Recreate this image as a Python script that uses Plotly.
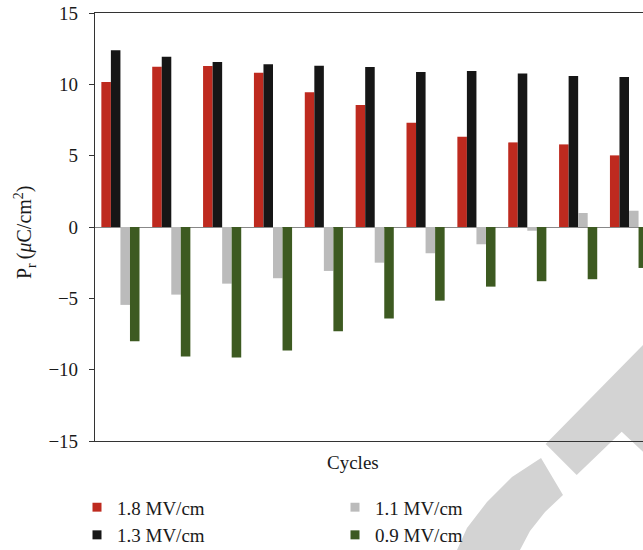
import plotly.graph_objects as go

# Remanent polarization per switching cycle for four applied fields
cycles = list(range(1, 12))
pr_18 = [10.17, 11.24, 11.29, 10.82, 9.45, 8.56, 7.30, 6.32, 5.93, 5.79, 5.02]
pr_13 = [12.39, 11.94, 11.57, 11.41, 11.31, 11.22, 10.87, 10.94, 10.76, 10.59, 10.52]
pr_11 = [-5.46, -4.74, -3.97, -3.59, -3.08, -2.50, -1.84, -1.21, -0.26, 0.98, 1.14]
pr_09 = [-8.00, -9.07, -9.14, -8.65, -7.30, -6.41, -5.16, -4.18, -3.80, -3.66, -2.87]

series = [
    ("1.8 MV/cm", pr_18, "#BE2A1F", 1),
    ("1.3 MV/cm", pr_13, "#161616", 3),
    ("1.1 MV/cm", pr_11, "#BBBBBB", 2),
    ("0.9 MV/cm", pr_09, "#3D5A21", 4),
]

y_ticks = [-15, -10, -5, 0, 5, 10, 15]

W, H = 643, 550
L, R, T, B = 95, 0, 13, 109
PW, PH = W - L - R, H - T - B

FONT = "Liberation Serif"
FS = 19
TXT = "#1a1a1a"

fig = go.Figure()

for name, vals, color, rank in series:
    fig.add_trace(go.Bar(
        x=cycles, y=vals, name=name, marker_color=color,
        marker_line_width=0, showlegend=False,
    ))
    # legend swatch (small square)
    fig.add_trace(go.Scatter(
        x=[None], y=[None], mode="markers", name=name,
        marker=dict(symbol="square", size=9, color=color),
        legendrank=rank, showlegend=True,
    ))


def px_to_paper(pts):
    return [((x - L) / PW, (T + PH - y) / PH) for x, y in pts]


def path_from(pts, closed=True):
    p = px_to_paper(pts)
    s = "M " + " L ".join(f"{x:.4f},{y:.4f}" for x, y in p)
    return s + (" Z" if closed else "")


# light grey curved-arrow mark in the background
arrow_head = [(643, 345), (545.7, 444), (576.7, 475), (621.7, 431.7), (643, 451.7)]
arc_band = [(541, 458), (512, 477), (487, 502), (467, 528), (457, 550),
            (520, 550), (530, 531), (545, 512), (563, 495)]
for pts in (arrow_head, arc_band):
    fig.add_shape(type="path", path=path_from(pts), xref="paper", yref="paper",
                  fillcolor="#D3D3D3", line_width=0, layer="below")

fig.update_layout(
    width=W, height=H,
    margin=dict(l=L, r=R, t=T, b=B, pad=0, autoexpand=False),
    paper_bgcolor="white", plot_bgcolor="white",
    barmode="group", bargap=0.25, bargroupgap=0,
    font=dict(family=FONT, size=FS, color=TXT),
    showlegend=True,
    legend=dict(
        orientation="h", x=(77 - L) / PW, xanchor="left",
        y=-0.1105, yanchor="top",
        entrywidth=213, entrywidthmode="pixels",
        traceorder="normal", bgcolor="rgba(0,0,0,0)",
        font=dict(family=FONT, size=FS, color=TXT),
        itemclick=False,
    ),
    xaxis=dict(
        range=[0.5, 11.275], showticklabels=False, ticks="",
        showgrid=False, zeroline=False,
        showline=True, linecolor="#333333", linewidth=1.2, mirror=True,
    ),
    yaxis=dict(
        range=[-15, 15], tickvals=y_ticks, ticks="outside", ticklen=5,
        tickcolor="#333333", tickwidth=1.2, ticklabelstandoff=7,
        showgrid=False, zeroline=True, zerolinecolor="#888888", zerolinewidth=1.2,
        showline=True, linecolor="#333333", linewidth=1.2, mirror=False,
        tickfont=dict(family=FONT, size=FS, color=TXT),
    ),
    annotations=[
        dict(text="Cycles", x=(353 - L) / PW, y=(T + PH - 462) / PH,
             xref="paper", yref="paper", xanchor="center", yanchor="middle",
             showarrow=False, font=dict(family=FONT, size=FS, color=TXT)),
        dict(text="P<sub>r</sub>\u2009(<i>μ</i>C/cm<sup>2</sup>)",
             x=(25 - L) / PW, y=(T + PH - 232) / PH,
             xref="paper", yref="paper", xanchor="center", yanchor="middle",
             textangle=-90, showarrow=False,
             font=dict(family=FONT, size=20, color=TXT)),
    ],
)

fig.write_html("out.html")
